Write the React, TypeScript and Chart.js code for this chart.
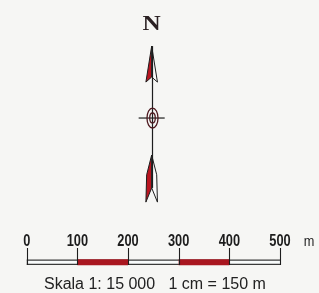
import React, { useEffect, useRef } from 'react';
import { Chart, registerables } from 'chart.js';

Chart.register(...registerables);

// ---- data ----
const scaleTicks = [0, 100, 200, 300, 400, 500];
const scaleTickLabels = ['0', '100', '200', '300', '400', '500'];
const segmentStarts = [0, 100, 200, 300, 400];
const segmentEnds = [100, 200, 300, 400, 500];
const segmentIsRed = [false, true, false, true, false];
const unitLabel = 'm';
const northLabel = 'N';
const scaleCaption = 'Skala 1: 15 000   1 cm = 150 m';

// ---- layout (metres, equal scale on both axes) ----
const X_MIN = -52.7;
const X_MAX = 577;
const Y_MIN = -60.2;
const Y_MAX = 518.2;
const TICK_TOP = 28.6;
const BAR_BOTTOM = -4.9;
const BAR_TOP = 5.9;
const LABEL_BASE = 33.2;
const UNIT_X = 557.4;
const CAPTION_X = 34.1;
const CAPTION_BASE = -51.7;
const ARROW_CX = 246.7;
const ARROW_CY = 285.2;
const N_BASE = 458.6;

const RED = '#b9141f';
const BAR_RED = '#a9161f';
const INK = '#1d1d1d';

// north arrow geometry relative to its centre (metres)
const headLeft = [[0, 142], [-11.4, 71], [0, 81]];
const headRight = [[0, 142], [0, 81], [11.4, 71]];
const featherLeft = [[0, -73], [-9.9, -112], [-11.4, -166], [0, -138]];
const featherRight = [[0, -73], [0, -138], [11.4, -166], [9.9, -112]];
const shaftTop = 142;
const shaftBottom = -138;
const ringOuter = [10.9, 19.7];
const ringInner = [5.5, 9.9];
const crossHalf = 25.7;

const bgPlugin = {
  id: 'paper',
  beforeDraw(chart: any) {
    const { ctx, width, height } = chart;
    ctx.save();
    ctx.fillStyle = '#f6f6f4';
    ctx.fillRect(0, 0, width, height);
    ctx.restore();
  },
};

const drawPlugin = {
  id: 'mapSymbols',
  afterDatasetsDraw(chart: any) {
    const { ctx } = chart;
    const xs = chart.scales.x;
    const ys = chart.scales.y;
    const X = (v: number) => xs.getPixelForValue(v);
    const Y = (v: number) => ys.getPixelForValue(v);
    ctx.save();

    // tick lines
    ctx.strokeStyle = INK;
    ctx.lineWidth = 1.1;
    scaleTicks.forEach((t) => {
      const px = Math.round(X(t)) + 0.5;
      ctx.beginPath();
      ctx.moveTo(px, Y(TICK_TOP));
      ctx.lineTo(px, Y(BAR_BOTTOM));
      ctx.stroke();
    });

    // tick labels
    const condensed = (text: string, x: number, y: number, font: string, sx: number) => {
      ctx.save();
      ctx.font = font;
      ctx.translate(x, y);
      ctx.scale(sx, 1);
      ctx.textAlign = 'center';
      ctx.textBaseline = 'alphabetic';
      ctx.fillText(text, 0, 0);
      ctx.restore();
    };
    ctx.fillStyle = INK;
    scaleTicks.forEach((t, i) => {
      condensed(scaleTickLabels[i], X(t), Y(LABEL_BASE), 'bold 16px "Liberation Sans", Arial, sans-serif', 0.8);
    });
    condensed(unitLabel, X(UNIT_X), Y(LABEL_BASE), '15px "Liberation Sans", Arial, sans-serif', 0.85);

    // caption
    ctx.font = '16px "Liberation Sans", Arial, sans-serif';
    ctx.textAlign = 'left';
    ctx.textBaseline = 'alphabetic';
    ctx.fillStyle = '#222';
    ctx.fillText(scaleCaption, X(CAPTION_X), Y(CAPTION_BASE));

    // N
    ctx.save();
    ctx.fillStyle = '#2a2022';
    ctx.font = 'bold 21px "Liberation Serif", "Times New Roman", serif';
    ctx.translate(X(ARROW_CX), Y(N_BASE));
    ctx.scale(1.2, 1);
    ctx.textAlign = 'center';
    ctx.fillText(northLabel, 0, 0);
    ctx.restore();

    // arrow polygons
    const poly = (pts: number[][], fill: string) => {
      ctx.beginPath();
      pts.forEach(([dx, dy], i) => {
        const px = X(ARROW_CX + dx);
        const py = Y(ARROW_CY + dy);
        if (i === 0) ctx.moveTo(px, py);
        else ctx.lineTo(px, py);
      });
      ctx.closePath();
      ctx.fillStyle = fill;
      ctx.fill();
      ctx.strokeStyle = INK;
      ctx.lineWidth = 1;
      ctx.lineJoin = 'miter';
      ctx.stroke();
    };
    poly(headLeft, RED);
    poly(headRight, '#fbfbfb');
    poly(featherLeft, RED);
    poly(featherRight, '#fbfbfb');

    // shaft
    const cx = Math.round(X(ARROW_CX)) + 0.5;
    ctx.strokeStyle = INK;
    ctx.lineWidth = 1.2;
    ctx.beginPath();
    ctx.moveTo(cx, Y(ARROW_CY + shaftTop));
    ctx.lineTo(cx, Y(ARROW_CY + shaftBottom));
    ctx.stroke();

    // crosshair
    const cy = Y(ARROW_CY);
    ctx.beginPath();
    ctx.moveTo(X(ARROW_CX - crossHalf), cy);
    ctx.lineTo(X(ARROW_CX + crossHalf), cy);
    ctx.stroke();

    // rings
    ctx.strokeStyle = '#4e1a20';
    ctx.lineWidth = 1.3;
    [ringOuter, ringInner].forEach(([rx, ry]) => {
      ctx.beginPath();
      ctx.ellipse(cx, cy, X(ARROW_CX + rx) - X(ARROW_CX), Y(ARROW_CY) - Y(ARROW_CY + ry), 0, 0, Math.PI * 2);
      ctx.stroke();
    });

    ctx.restore();
  },
};

export default function App() {
  const ref = useRef<HTMLCanvasElement | null>(null);

  useEffect(() => {
    document.body.style.margin = '0';
    if (!ref.current) return;
    const barMid = (BAR_TOP + BAR_BOTTOM) / 2;
    const datasets: any[] = [
      {
        label: 'outline',
        data: [
          { x: scaleTicks[0], y: barMid },
          { x: scaleTicks[scaleTicks.length - 1], y: barMid },
        ],
        showLine: true,
        borderColor: '#3a3a3a',
        borderWidth: 5.6,
        pointRadius: 0,
        order: 3,
      },
      {
        label: 'inner',
        data: [
          { x: scaleTicks[0], y: barMid },
          { x: scaleTicks[scaleTicks.length - 1], y: barMid },
        ],
        showLine: true,
        borderColor: '#f8fbfb',
        borderWidth: 3,
        pointRadius: 0,
        order: 2,
      },
    ];
    segmentStarts.forEach((s, i) => {
      if (!segmentIsRed[i]) return;
      datasets.push({
        label: 'seg' + i,
        data: [
          { x: s, y: barMid },
          { x: segmentEnds[i], y: barMid },
        ],
        showLine: true,
        borderColor: BAR_RED,
        borderWidth: 5.8,
        pointRadius: 0,
        order: 1,
      });
    });

    const chart = new Chart(ref.current, {
      type: 'scatter',
      data: { datasets },
      options: {
        animation: false,
        responsive: false,
        maintainAspectRatio: false,
        layout: { padding: 0 },
        plugins: { legend: { display: false }, tooltip: { enabled: false } },
        scales: {
          x: { type: 'linear', min: X_MIN, max: X_MAX, display: false },
          y: { type: 'linear', min: Y_MIN, max: Y_MAX, display: false },
        },
      },
      plugins: [bgPlugin, drawPlugin],
    });
    return () => chart.destroy();
  }, []);

  return (
    <div style={{ position: 'fixed', left: 0, top: 0, width: 319, height: 293 }}>
      <canvas ref={ref} width={319} height={293} />
    </div>
  );
}
